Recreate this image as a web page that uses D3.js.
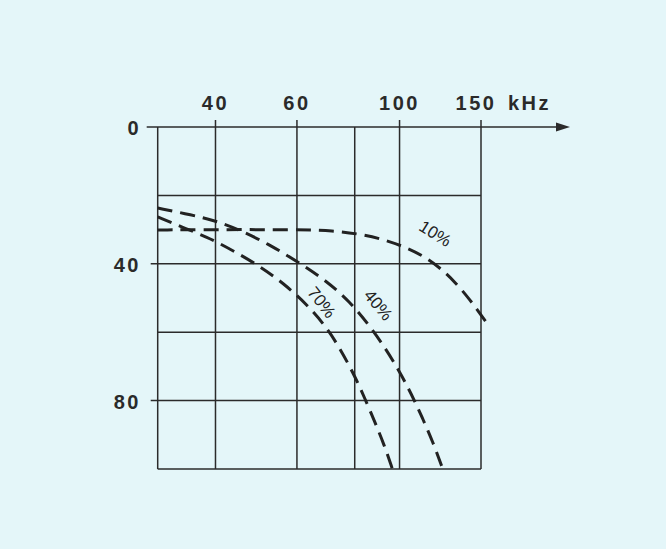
<!DOCTYPE html>
<html>
<head>
<meta charset="utf-8">
<title>Frequency curves</title>
<style>
    body { margin: 0; background: #e4f6f9; }
    svg { display: block; }
    .grid line { stroke: #2b2b2b; stroke-width: 1.5px; }
    .curve { fill: none; stroke: #222; stroke-width: 3px; stroke-dasharray: 15 8; }
    .tick-label { font-family: "Liberation Sans", Arial, sans-serif; font-weight: bold; font-size: 20px; fill: #2a2a2a; letter-spacing: 2.5px; }
    .pct { font-family: "Liberation Sans", Arial, sans-serif; font-size: 17px; fill: #222; }
</style>
<script src="https://d3js.org/d3.v7.min.js"></script>
</head>
<body>
<script>
// frequency ticks (kHz) and depth ticks
const xTicks = [40, 60, 100, 150];
const xGrid = [30, 40, 60, 80, 100, 150];
const yTicks = [0, 40, 80];
const yGrid = [0, 20, 40, 60, 80, 100];

// curves: [kHz, value]
const curve10 = [[30, 30.1], [40, 30.0], [60, 30.0], [72, 30.3], [82, 31.3], [92, 32.8],
    [102, 34.9], [112, 37.5], [122, 41.0], [132, 45.4], [142, 50.5], [150, 55.0], [154.7, 57.5]];
const curve40 = [[30, 23.7], [35.5, 25.7], [40.5, 27.6], [46, 30.6], [53, 34.8], [60.5, 39.6],
    [69.5, 45.0], [78, 51.0], [86, 58.0], [93, 64.5], [100, 71.5], [106, 78.0],
    [112, 85.0], [118, 92.0], [124, 100]];
const curve70 = [[30, 26.3], [34.5, 29.7], [39, 32.6], [44, 36.4], [50, 40.8], [56, 45.6],
    [63, 51.8], [69.5, 58.5], [74.5, 65.0], [79.6, 72.2], [84, 79.1], [88.5, 86.4],
    [92.5, 92.7], [96.5, 100]];

const labels = [
    { text: '10%', x: 119, y: 31.5, angle: 32 },
    { text: '40%', x: 89.5, y: 52.3, angle: 50 },
    { text: '70%', x: 67.5, y: 51.5, angle: 52 }
];

const width = 666, height = 549;

const svg = d3.select('body').append('svg')
    .attr('width', width)
    .attr('height', height);

const x = d3.scaleLog().domain([30, 150]).range([157.7, 481]);
const y = d3.scaleLinear().domain([0, 100]).range([127, 469]);

const grid = svg.append('g').attr('class', 'grid');

// vertical grid lines (+ small ticks above the axis for labelled ones)
grid.selectAll('line.v')
    .data(xGrid)
    .join('line')
    .attr('class', 'v')
    .attr('x1', d => x(d)).attr('x2', d => x(d))
    .attr('y1', d => xTicks.includes(d) ? y(0) - 7 : y(0))
    .attr('y2', y(100));

// horizontal grid lines
grid.selectAll('line.h')
    .data(yGrid.filter(d => d > 0))
    .join('line')
    .attr('class', 'h')
    .attr('x1', d => yTicks.includes(d) ? x(30) - 7 : x(30))
    .attr('x2', x(150))
    .attr('y1', d => y(d)).attr('y2', d => y(d));

// top axis with arrow
grid.append('line')
    .attr('x1', x(30) - 11).attr('x2', 560)
    .attr('y1', y(0)).attr('y2', y(0));

svg.append('path')
    .attr('d', `M556,${y(0) - 4.5} L570,${y(0)} L556,${y(0) + 4.5} Z`)
    .attr('fill', '#2b2b2b');

// tick labels
svg.selectAll('text.xl')
    .data(xTicks)
    .join('text')
    .attr('class', 'tick-label xl')
    .attr('x', d => x(d) + (d === 150 ? -5 : 0))
    .attr('y', 110)
    .attr('text-anchor', 'middle')
    .text(d => d);

svg.append('text')
    .attr('class', 'tick-label')
    .attr('x', 508)
    .attr('y', 110)
    .text('kHz');

svg.selectAll('text.yl')
    .data(yTicks)
    .join('text')
    .attr('class', 'tick-label yl')
    .attr('x', 141)
    .attr('y', d => y(d) + 8)
    .attr('text-anchor', 'end')
    .text(d => d);

// dashed curves
const line = d3.line()
    .x(d => x(d[0]))
    .y(d => y(d[1]))
    .curve(d3.curveBasis);

svg.selectAll('path.curve')
    .data([curve10, curve40, curve70])
    .join('path')
    .attr('class', 'curve')
    .attr('d', line);

// percentage labels
svg.selectAll('text.pct')
    .data(labels)
    .join('text')
    .attr('class', 'pct')
    .attr('text-anchor', 'middle')
    .attr('dominant-baseline', 'middle')
    .attr('transform', d => `translate(${x(d.x)},${y(d.y)}) rotate(${d.angle})`)
    .text(d => d.text);
</script>
</body>
</html>
